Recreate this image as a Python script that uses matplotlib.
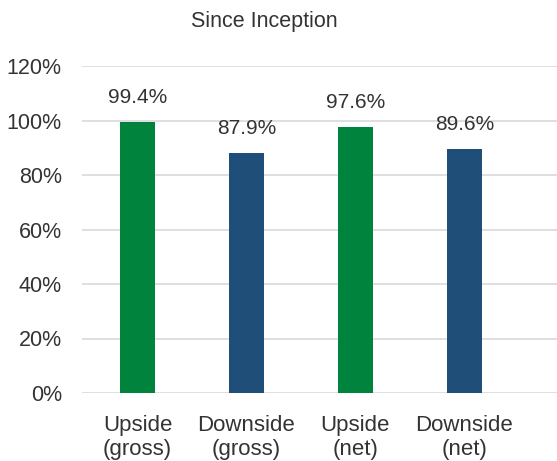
import matplotlib.pyplot as plt
import numpy as np

plt.rcParams["font.family"] = ["Liberation Sans", "DejaVu Sans"]

categories = ["Upside\n(gross)", "Downside\n(gross)", "Upside\n(net)", "Downside\n(net)"]
values = [99.4, 87.9, 97.6, 89.6]
colors = ["#00843D", "#1F4E79", "#00843D", "#1F4E79"]

fig = plt.figure(figsize=(5.57, 4.61), dpi=100)
ax = fig.add_axes([82 / 557, 1 - 393 / 461, 475 / 557, (393 - 66) / 461])

x = np.arange(len(categories))
bars = ax.bar(x, values, width=0.32, color=colors, zorder=3)

for xi, v in zip(x, values):
    ax.annotate(f"{v:.1f}%", (xi, v), xytext=(0, 11), textcoords="offset points",
                ha="center", va="bottom", fontsize=15, color="#333333")

ax.set_ylim(0, 120)
ax.set_yticks(np.arange(0, 121, 20))
ax.set_yticklabels([f"{t}%" for t in range(0, 121, 20)])
ax.set_xlim(-0.509, 3.85)
ax.set_xticks(x)
ax.set_xticklabels(categories)

ax.grid(axis="y", color="#D9D9D9", linewidth=1.2, zorder=0)
ax.tick_params(axis="both", length=0, colors="#333333")
ax.tick_params(axis="y", pad=14.5, labelsize=15.5)
ax.tick_params(axis="x", pad=16, labelsize=16)
for s in ax.spines.values():
    s.set_visible(False)

fig.text(264 / 557, 1 - 22 / 461, "Since Inception", ha="center", va="center",
         fontsize=15.5, color="#333333")

fig.savefig("out.png", dpi=100)
